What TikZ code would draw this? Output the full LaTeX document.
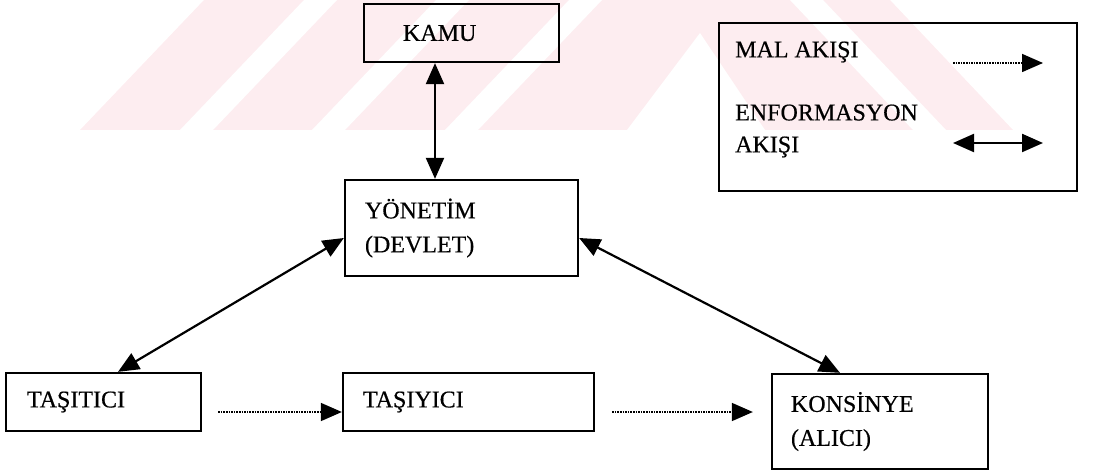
\documentclass[tikz,border=0pt]{standalone}
\usepackage{fontspec}
\setmainfont{Liberation Serif}[FakeBold=0.5]
\usetikzlibrary{arrows.meta,calc}
\definecolor{wm}{RGB}{253,237,240}
\begin{document}
\begin{tikzpicture}[x=1pt,y=-1pt,
  box/.style={draw, line width=2.3pt, rectangle, align=left,
    font=\fontsize{24}{34}\selectfont, inner ysep=0pt},
  lbl/.style={font=\fontsize{24}{32}\selectfont, align=left, inner sep=0pt, anchor=west},
  info/.style={line width=2.2pt, {Triangle[length=21pt,width=18pt]}-{Triangle[length=21pt,width=18pt]}},
  goods/.style={line width=1.6pt, densely dotted, -{Triangle[length=21pt,width=18pt]}}]
\useasboundingbox (0,0) rectangle (1116,470);
% faint watermark
\begin{scope}
\clip (0,0) rectangle (1116,130);
\fill[wm] (80,130) -- (204,0) -- (890,0) -- (1013,130) -- cycle;
\fill[white] (180,130) -- (213,130) -- (337,0) -- (304,0) -- cycle;
\fill[white] (312,130) -- (345,130) -- (469,0) -- (436,0) -- cycle;
\fill[white] (445,130) -- (478,130) -- (602,0) -- (569,0) -- cycle;
\fill[white] (627,130) -- (700,33) -- (765,130) -- cycle;
\fill[white] (790,0) -- (823,0) -- (946,130) -- (913,130) -- cycle;
\end{scope}
% boxes
\node[box, text width=117pt, inner xsep=39pt, minimum height=58pt] (kamu) at (461.5,33) {KAMU};
\node[box, text width=193pt, inner xsep=20pt, minimum height=96pt] (yon) at (461.5,228) {YÖNETİM\\(DEVLET)};
\node[box, text width=153pt, inner xsep=21pt, minimum height=58pt] (tsc) at (103.5,402) {TAŞITICI};
\node[box, text width=211pt, inner xsep=20pt, minimum height=58pt] (tsy) at (468.5,402) {TAŞIYICI};
\node[box, text width=178pt, inner xsep=19pt, minimum height=95pt] (kon) at (880,421.5) {KONSİNYE\\(ALICI)};
% legend
\node[draw, line width=2.3pt, minimum width=358pt, minimum height=168pt, inner sep=0pt] (leg) at (898,107) {};
\node[lbl] (lmal) at (735,52) {MAL AKIŞI};
\node[lbl] (linf) at (735,131) {ENFORMASYON\\AKIŞI};
\coordinate (g1) at (953,63);
\coordinate (g2) at (1043,63);
\coordinate (i1) at (953,143);
\coordinate (i2) at (1043,143);
\draw[goods] (g1) -- (g2);
\draw[info] (i1) -- (i2);
% connectors
\coordinate (vx) at (435,0);
\draw[info] (kamu.south -| vx) -- (yon.north -| vx);
\coordinate (ya) at (0,238);
\coordinate (ta) at (118,0);
\coordinate (ka) at (840,0);
\draw[info] (yon.west |- ya) -- (tsc.north -| ta);
\draw[info] (yon.east |- ya) -- (kon.north -| ka);
\coordinate (gy) at (0,412);
\draw[goods] ($(tsc.east |- gy)+(16,0)$) -- (tsy.west |- gy);
\draw[goods] ($(tsy.east |- gy)+(17,0)$) -- ($(kon.west |- gy)+(-18,0)$);
\end{tikzpicture}
\end{document}
